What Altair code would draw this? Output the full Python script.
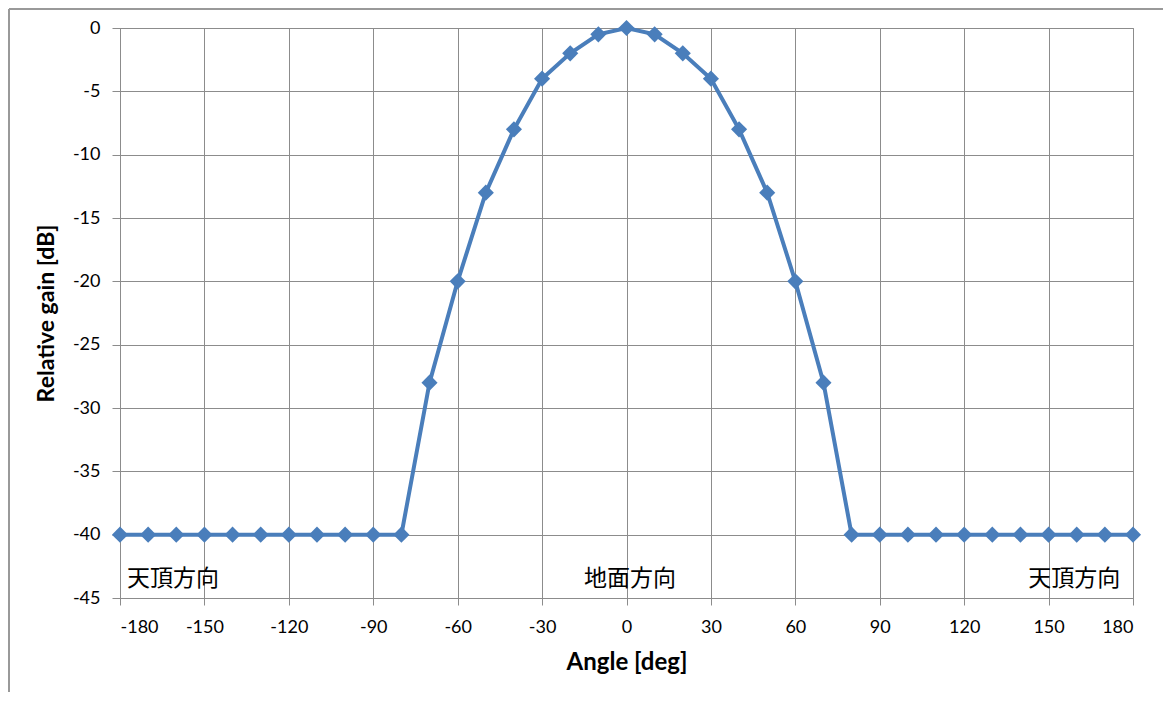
import altair as alt
import pandas as pd

angles = list(range(-180, 181, 10))
gains = [-40, -40, -40, -40, -40, -40, -40, -40, -40, -40, -40,
         -28, -20, -13, -8, -4, -2, -0.5, 0, -0.5, -2, -4, -8, -13, -20, -28,
         -40, -40, -40, -40, -40, -40, -40, -40, -40, -40, -40]

label_texts = ["天頂方向", "地面方向", "天頂方向"]
label_x = [-177.5, 1.2, 175.5]
label_y = [-43.5, -43.5, -43.5]
label_align = ["left", "center", "right"]

x_ticks = list(range(-180, 181, 30))
y_ticks = list(range(-45, 1, 5))

df = pd.DataFrame({"angle": angles, "gain": gains})
lab = pd.DataFrame({"t": label_texts, "x": label_x, "y": label_y, "a": label_align})

W, H = 1013, 570
BLUE = "#4a7ebb"
GRID = "#8c8c8c"
FONT = "Lato"

x_scale = alt.Scale(domain=[-180, 180], nice=False, zero=False)
y_scale = alt.Scale(domain=[-45, 0], nice=False, zero=False)

x_axis = alt.Axis(values=x_ticks, title="Angle [deg]", grid=True, gridColor=GRID,
                  domainColor=GRID, tickColor=GRID, tickSize=7, labelFontSize=18,
                  labelFont=FONT, labelColor="#000", labelPadding=13,
                  labelExpr="datum.value + ''",
                  titleFont=FONT, titleFontSize=24, titleFontWeight="bold",
                  titleColor="#000", titlePadding=14)
y_axis = alt.Axis(values=y_ticks, title="Relative gain [dB]", grid=True, gridColor=GRID,
                  domainColor=GRID, tickColor=GRID, tickSize=8, labelFontSize=18,
                  labelFont=FONT, labelColor="#000", labelPadding=12,
                  labelExpr="datum.value + ''",
                  titleFont=FONT, titleFontSize=23, titleFontWeight="bold",
                  titleColor="#000", titlePadding=14)

base = alt.Chart(df)
line = base.mark_line(color=BLUE, strokeWidth=4).encode(
    x=alt.X("angle:Q", scale=x_scale, axis=x_axis),
    y=alt.Y("gain:Q", scale=y_scale, axis=y_axis),
)
pts = base.mark_point(shape="diamond", filled=True, color=BLUE, opacity=1, size=260).encode(
    x=alt.X("angle:Q", scale=x_scale),
    y=alt.Y("gain:Q", scale=y_scale),
)

def label_layer(align):
    return alt.Chart(lab[lab["a"] == align]).mark_text(
        align=align, baseline="middle", fontSize=23, font="Noto Sans CJK JP", color="#000"
    ).encode(x=alt.X("x:Q", scale=x_scale), y=alt.Y("y:Q", scale=y_scale), text="t:N")

border_top = alt.Chart(pd.DataFrame({"k": [0]})).mark_rule(color="#999999", strokeWidth=2).encode(
    x=alt.value(-111), x2=alt.value(W + 40), y=alt.value(-19))
border_left = alt.Chart(pd.DataFrame({"k": [0]})).mark_rule(color="#999999", strokeWidth=2).encode(
    x=alt.value(-111), y=alt.value(-19), y2=alt.value(H + 110))

chart = alt.layer(
    border_top, border_left, line, pts,
    label_layer("left"), label_layer("center"), label_layer("right"),
).properties(
    width=W, height=H,
    autosize=alt.AutoSizeParams(type="none"),
    padding={"left": 112, "top": 20, "right": 30, "bottom": 94},
).configure_view(stroke=GRID, strokeWidth=1)

chart.save("out.html", embed_options={"renderer": "svg", "actions": False})
